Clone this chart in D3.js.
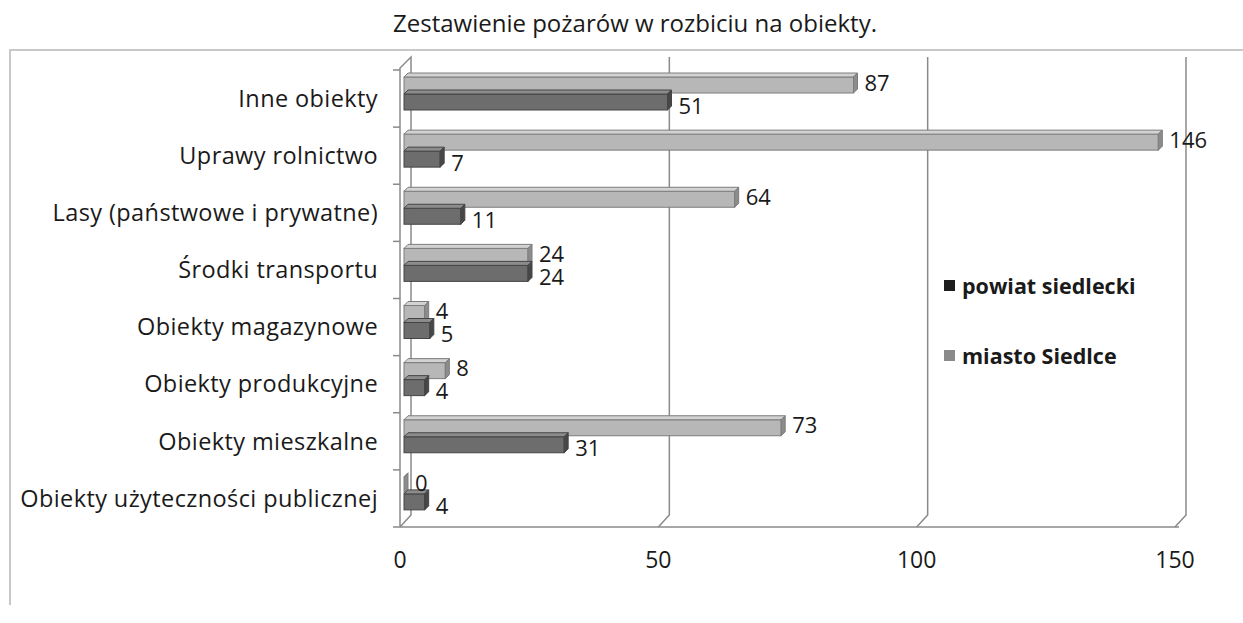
<!DOCTYPE html>
<html>
<head>
<meta charset="utf-8">
<script src="https://cdn.jsdelivr.net/npm/d3@7"></script>
<style>
  body { margin: 0; background: #fff; }
  text { font-family: "Open Sans", sans-serif; fill: #1a1a1a; }
</style>
</head>
<body>
<svg id="chart" width="1243" height="623"></svg>
<script>
// data
var categories = ["Inne obiekty", "Uprawy rolnictwo", "Lasy (państwowe i prywatne)", "Środki transportu",
  "Obiekty magazynowe", "Obiekty produkcyjne", "Obiekty mieszkalne", "Obiekty użyteczności publicznej"];
var miasto = [87, 146, 64, 24, 4, 8, 73, 0];
var powiat = [51, 7, 11, 24, 5, 4, 31, 4];
var ticks = [0, 50, 100, 150];
var seriesNames = ["powiat siedlecki", "miasto Siedlce"];

var svg = d3.select("#chart");

// outer frame
svg.append("path")
  .attr("d", "M10,605 L10,50 L1243,50")
  .attr("fill", "none").attr("stroke", "#c8c8c8").attr("stroke-width", 2);

// title
svg.append("text")
  .attr("x", 635).attr("y", 32)
  .attr("text-anchor", "middle")
  .style("font-size", "24px")
  .text("Zestawienie pożarów w rozbiciu na obiekty.");

var x = d3.scaleLinear().domain([0, 150]).range([404, 1179]);
var y = d3.scaleBand().domain(categories).range([70, 527]);

var dx = 8, dy = 11;   // depth of the back wall
var front = function(v) { return x(v) - 4; };
var back = function(v) { return x(v) + dx - 1; };
var yTopBack = 57, yBotBack = 515, yBot = 527;

var wall = svg.append("g").attr("stroke", "#8a8a8a").attr("fill", "none").attr("stroke-width", 1.5);

// vertical gridlines on the back wall + floor slant
ticks.forEach(function(t) {
  if (t === 0) return;
  wall.append("path")
    .attr("d", "M" + back(t) + "," + yTopBack + " L" + back(t) + "," + yBotBack +
               " L" + front(t) + "," + yBot);
});

// left wall
wall.append("path")
  .attr("d", "M" + front(0) + "," + yBot + " L" + front(0) + "," + (yTopBack + dy) +
             " L" + back(0) + "," + yTopBack + " L" + back(0) + "," + yBotBack + " L" + front(0) + "," + yBot);

// floor front edge
wall.append("line")
  .attr("x1", front(0)).attr("x2", front(150) + 4)
  .attr("y1", yBot).attr("y2", yBot);

// category ticks
var tickYs = categories.map(function(c) { return y(c); }).concat([527]);
tickYs.forEach(function(ty) {
  wall.append("line").attr("x1", front(0) - 7).attr("x2", front(0))
    .attr("y1", ty).attr("y2", ty);
});

// x tick labels
svg.selectAll(".xt")
  .data(ticks)
  .enter()
  .append("text")
  .attr("x", function(d) { return front(d); })
  .attr("y", 568)
  .attr("text-anchor", "middle")
  .style("font-size", "23px")
  .text(function(d) { return d; });

// category labels
svg.selectAll(".cat")
  .data(categories)
  .enter()
  .append("text")
  .attr("x", 378)
  .attr("y", function(d) { return y(d) + y.bandwidth() / 2; })
  .attr("dy", "0.35em")
  .attr("text-anchor", "end")
  .style("font-size", "23.5px")
  .style("letter-spacing", "0.4px")
  .text(function(d) { return d; });

// 3D bars
var d = 4, h = 16;
function bar(g, v, top, colors) {
  var x0 = x(0), x1 = x(v);
  // front face
  g.append("rect")
    .attr("x", x0).attr("y", top).attr("width", Math.max(x1 - x0, 0)).attr("height", h)
    .attr("fill", colors[0]).attr("stroke", colors[3]).attr("stroke-width", 1);
  // top face
  g.append("path")
    .attr("d", "M" + x0 + "," + top + " L" + x1 + "," + top + " L" + (x1 + d) + "," + (top - d) +
               " L" + (x0 + d) + "," + (top - d) + "Z")
    .attr("fill", colors[1]).attr("stroke", colors[3]).attr("stroke-width", 1);
  // end face
  g.append("path")
    .attr("d", "M" + x1 + "," + top + " L" + (x1 + d) + "," + (top - d) + " L" + (x1 + d) + "," + (top + h - d) +
               " L" + x1 + "," + (top + h) + "Z")
    .attr("fill", colors[2]).attr("stroke", colors[3]).attr("stroke-width", 1);
}

var lightColors = ["#b7b7b7", "#d2d2d2", "#8c8c8c", "#7c7c7c"];
var darkColors = ["#6d6d6d", "#8c8c8c", "#474747", "#444444"];

var bars = svg.append("g");
categories.forEach(function(c, i) {
  var b = y(c);
  bar(bars, miasto[i], b + 7, lightColors);
  bar(bars, powiat[i], b + 24, darkColors);
});

// value labels
var labels = svg.append("g").style("font-size", "22px");
categories.forEach(function(c, i) {
  var b = y(c);
  labels.append("text")
    .attr("x", x(miasto[i]) + d + 7)
    .attr("y", b + 7 + h / 2 - 2)
    .attr("dy", "0.35em")
    .text(miasto[i]);
  labels.append("text")
    .attr("x", x(powiat[i]) + d + 7)
    .attr("y", b + 24 + h / 2 + 4)
    .attr("dy", "0.35em")
    .text(powiat[i]);
});

// legend
var legendColors = ["#1e1e1e", "#8a8a8a"];
var legend = svg.append("g");
seriesNames.forEach(function(s, i) {
  var ly = 286 + i * 70;
  legend.append("rect")
    .attr("x", 944).attr("y", ly - 6).attr("width", 11).attr("height", 11)
    .attr("fill", legendColors[i]);
  legend.append("text")
    .attr("x", 962).attr("y", ly)
    .attr("dy", "0.35em")
    .style("font-size", "21.5px")
    .style("font-weight", "bold")
    .text(s);
});
</script>
</body>
</html>
